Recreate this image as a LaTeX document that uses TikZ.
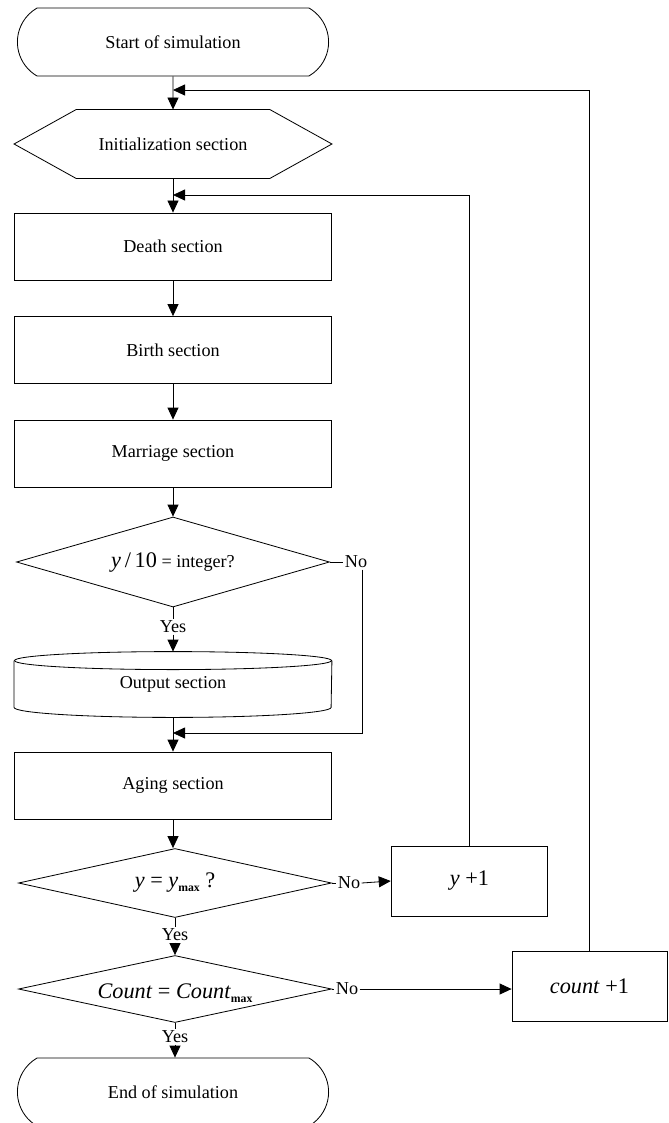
\documentclass[tikz,border=0pt]{standalone}
\usepackage{fontspec}
\setmainfont{Liberation Serif}
\usetikzlibrary{arrows.meta}
\usetikzlibrary{shapes.geometric}
\usetikzlibrary{shapes.misc}
\tikzset{every node/.style={           align=center,
           font=\fontsize{15.5}{18}\selectfont
},
         terminal/.style={ % Start and end of the run
           draw, rounded rectangle,
           rounded rectangle arc length=120,
           minimum width=9.57cm, minimum height=2.04cm},
         process/.style={  % Plain section boxes
           draw, rectangle,
           minimum width=9.51cm, minimum height=2.01cm},
         decision/.style={ % Questions
           draw, diamond, inner sep=0pt, shape aspect=4.5,
           minimum width=9.39cm, minimum height=2.07cm},
         counter/.style={  % Boxes on the right
           draw, rectangle,
           minimum width=4.7cm, minimum height=2.1cm},
         answer/.style={   % Yes / No
           inner sep=1pt},
         flow/.style={     % Arrows with bold filled heads
           -{Triangle[length=0.36cm,width=0.33cm]},
           line width=0.7pt},
         every path/.style={line width=0.7pt}}
\newcommand{\mathbig}[1]{{\fontsize{19}{20}\selectfont #1}}
\newcommand{\maxsub}{\raisebox{-0.35ex}{\fontsize{10}{11}\selectfont\bfseries max}}

\begin{document}
\begin{tikzpicture}[x=0.03cm,y=-0.03cm]
  \useasboundingbox (0,0) rectangle (668,1123);

  \node [terminal] (start) at (173,42) {Start of simulation};

  % hexagon drawn round a plain node
  \node [minimum width=9.51cm, minimum height=2.04cm] (init) at (173,144) {Initialization section};
  \draw (init.west) -- ([xshift=1.86cm]init.north west) -- ([xshift=-1.86cm]init.north east)
    -- (init.east) -- ([xshift=-1.86cm]init.south east) -- ([xshift=1.86cm]init.south west) -- cycle;

  \node [process] (death) at (173,246.5) {Death section};
  \node [process] (birth) at (173,350) {Birth section};
  \node [process] (marriage) at (173,453.5) {Marriage section};

  \node [decision] (dten) at (173,562) [minimum height=2.7cm, shape aspect=3.5] {\mathbig{\textit{y}\,/\,10} = integer?};

  % cylinder drawn round a plain node
  \node [minimum width=9.51cm, minimum height=1.95cm] (output) at (173,684.5) {Output section};
  \draw ([yshift=-0.27cm]output.north west) -- ([yshift=0.3cm]output.south west)
    arc [start angle=180, end angle=360, x radius=4.755cm, y radius=0.3cm]
    -- ([yshift=-0.27cm]output.north east);
  \draw ([yshift=-0.27cm]output.north) ellipse [x radius=4.755cm, y radius=0.27cm];

  \node [process] (aging) at (173,785.5) {Aging section};

  \node [decision] (dy) at (175,883) {\mathbig{\textit{y} = \textit{y}\maxsub\ ?}};
  \node [counter] (yinc) at (469.5,881) {\mathbig{\textit{y} +1}};

  \node [decision] (dcount) at (175,989) [minimum height=2.01cm] {};
  \node [fill=white, inner sep=1pt] (dcounttext) at (175,993) {\mathbig{\textit{Count} = \textit{Count}\maxsub}};
  \node [counter] (cinc) at (589.5,986.5) [minimum width=4.65cm] {\mathbig{\textit{count} +1}};

  \node [terminal] (end) at (173,1092) {End of simulation};

  % labels on the branches
  \node [answer] (noten) at (356,562) {No};
  \node [answer] (yesten) at (173,627) {Yes};
  \node [answer] (noy) at (349,883) {No};
  \node [answer] (yesy) at (175,935) {Yes};
  \node [answer] (nocount) at (347,989) {No};
  \node [answer] (yescount) at (175,1037) {Yes};

  \coordinate (jinit) at (173,90);
  \coordinate (jdeath) at (173,195);
  \coordinate (jaging) at (173,733);

  \draw [flow] (start) -- (init);
  \draw [flow] (init) -- (death);
  \draw [flow] (death) -- (birth);
  \draw [flow] (birth) -- (marriage);
  \draw [flow] (marriage) -- (dten);
  \draw (dten.south) -- (yesten.north);
  \draw [flow] (yesten.south) -- (output.north);
  \draw (dten.east) -- (noten.west);
  \draw [flow] ([xshift=0.2cm]noten.south) |- (jaging);
  \draw [flow] (output.south) -- (aging.north);
  \draw [flow] (aging.south) -- (aging.south |- dy.north);
  \draw (dy.east) -- (noy.west);
  \draw [flow] (noy.east) -- (yinc.west);
  \draw [flow] (yinc.north) |- (jdeath);
  \draw (dy.south) -- (yesy.north);
  \draw [flow] (yesy.south) -- (dcount.north);
  \draw (dcount.east) -- (nocount.west);
  \draw [flow] (nocount.east) -- (nocount.east -| cinc.west);
  \draw [flow] (cinc.north) |- (jinit);
  \draw (dcount.south) -- (yescount.north);
  \draw [flow] (yescount.south) -- (yescount.south |- end.north);
\end{tikzpicture}
\end{document}
